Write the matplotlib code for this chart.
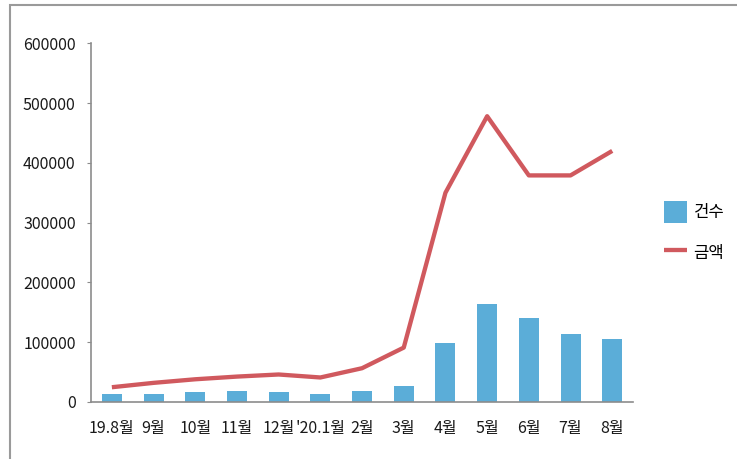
import matplotlib
matplotlib.use("Agg")
import matplotlib.pyplot as plt
from matplotlib.patches import Rectangle

plt.rcParams['font.family'] = ['Noto Sans CJK KR', 'DejaVu Sans']

# data
months = ["19.8월", "9월", "10월", "11월", "12월", "'20.1월", "2월",
          "3월", "4월", "5월", "6월", "7월", "8월"]
counts = [13000, 13000, 16000, 19000, 16000, 13500, 19000,
          26000, 99500, 164000, 141000, 113000, 105000]
amounts = [24700, 32000, 38000, 42500, 46000, 41000, 56500,
           91000, 350000, 478000, 379000, 379000, 420000]
yticks = [0, 100000, 200000, 300000, 400000, 500000, 600000]

BAR_COLOR = '#5BADD8'
LINE_COLOR = '#D0595E'
AXIS_COLOR = '#8C8C8C'

fig = plt.figure(figsize=(7.37, 4.59), dpi=100)
ax = fig.add_axes([0.1235, 0.1242, 0.7355, 0.7815])

x = list(range(len(months)))
bars = ax.bar(x, counts, width=0.48, color=BAR_COLOR, label='건수', zorder=2)
line, = ax.plot(x, amounts, color=LINE_COLOR, linewidth=3.1, label='금액',
                solid_joinstyle='round', solid_capstyle='butt', zorder=3)

ax.set_xlim(-0.5, len(months) - 0.5)
ax.set_ylim(0, 600000)
ax.set_yticks(yticks)
ax.set_yticklabels([str(v) for v in yticks], fontsize=11.5, color='#1a1a1a')
ax.set_xticks(x)
ax.set_xticklabels(months, fontsize=11.5, color='#1a1a1a')
ax.tick_params(axis='x', length=0, pad=13)
ax.tick_params(axis='y', length=3, color=AXIS_COLOR, pad=8)

for side in ['top', 'right']:
    ax.spines[side].set_visible(False)
for side in ['left', 'bottom']:
    ax.spines[side].set_color(AXIS_COLOR)
    ax.spines[side].set_linewidth(1.2)

fig.legend([bars, line], ['건수', '금액'], loc='center left',
           bbox_to_anchor=(0.88, 0.494), frameon=False, fontsize=12,
           handlelength=1.4, handleheight=1.7, handletextpad=0.4,
           labelspacing=1.1)

# outer frame of the picture
fig.patches.append(Rectangle((10 / 737, -0.1), 1.2, 1 - 5 / 459 + 0.1,
                             transform=fig.transFigure, fill=False,
                             edgecolor='#9A9A9A', linewidth=1.5))

fig.savefig("out.png", dpi=100)
